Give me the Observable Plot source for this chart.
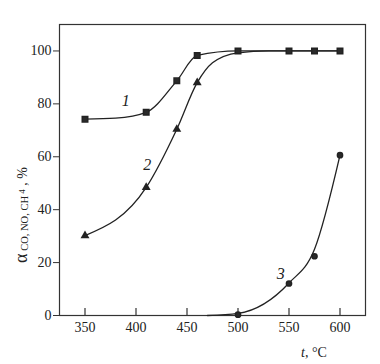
<!DOCTYPE html>
<html>
<head>
<meta charset="utf-8">
<script src="https://cdn.jsdelivr.net/npm/d3@7"></script>
<script src="https://cdn.jsdelivr.net/npm/@observablehq/plot@0.6"></script>
<style>
  html, body { margin: 0; padding: 0; background: #fff; }
  #chart svg { display: block; }
</style>
</head>
<body>
<div id="chart"></div>
<script>
// Measured points (temperature °C, conversion %)
const t1 = [350, 410, 440, 460, 500, 550, 575, 600];
const v1 = [74.2, 76.8, 88.7, 98.3, 100, 100, 100, 100];
const t2 = [350, 410, 440, 460];
const v2 = [30.2, 48.4, 70.4, 88];
const t3 = [500, 550, 575, 600];
const v3 = [0.3, 12.1, 22.4, 60.6];

// Smooth fitted curves
const c1t = [350, 380, 410, 440, 460, 500, 550, 575, 600];
const c1v = [74.2, 74.6, 76.8, 88.7, 98.3, 100, 100, 100, 100];
const c2t = [350, 410, 440, 460, 475, 500, 530, 600];
const c2v = [30.2, 48.4, 70.4, 88, 95.5, 99.3, 100, 100];
const c3t = [470, 500, 550, 575, 600];
const c3v = [0, 0.8, 12.3, 25, 60.6];

// Curve labels
const labelText = ["1", "2", "3"];
const labelT = [390, 411, 542];
const labelV = [81, 56.8, 15.8];

const xTicks = [350, 400, 450, 500, 550, 600];
const yTicks = [0, 20, 40, 60, 80, 100];

const zip = (ts, vs) => ts.map((t, i) => ({t, v: vs[i]}));
const pts1 = zip(t1, v1), pts2 = zip(t2, v2), pts3 = zip(t3, v3);
const cur1 = zip(c1t, c1v), cur2 = zip(c2t, c2v), cur3 = zip(c3t, c3v);
const labels = labelText.map((s, i) => ({s, t: labelT[i], v: labelV[i]}));

const font = "'Liberation Serif', 'DejaVu Serif', serif";

const plot = Plot.plot({
  width: 380,
  height: 364,
  marginLeft: 59,
  marginRight: 15,
  marginTop: 24,
  marginBottom: 49,
  style: {fontFamily: font, fontSize: "14px", color: "#222", background: "#fff"},
  x: {domain: [325, 625]},
  y: {domain: [0, 110]},
  marks: [
    Plot.frame({stroke: "#333", strokeWidth: 1.2}),
    Plot.axisY(yTicks, {tickSize: 6, tickPadding: 2, stroke: "#333", fontSize: 14, label: null}),
    Plot.axisX(xTicks, {tickSize: 0, tickPadding: 7, fontSize: 14, label: null}),
    Plot.tickX(xTicks, {x: d => d, insetTop: 284, stroke: "#333", strokeWidth: 1.2}),
    Plot.line(cur1, {x: "t", y: "v", curve: "monotone-x", stroke: "#222", strokeWidth: 1.3}),
    Plot.line(cur2, {x: "t", y: "v", curve: "monotone-x", stroke: "#222", strokeWidth: 1.3}),
    Plot.line(cur3, {x: "t", y: "v", curve: "monotone-x", stroke: "#222", strokeWidth: 1.3}),
    Plot.dot(pts2, {x: "t", y: "v", symbol: "triangle", r: 3.3, fill: "#222", stroke: "none"}),
    Plot.dot(pts1, {x: "t", y: "v", symbol: "square", r: 3.1, fill: "#2a2a2a", stroke: "#222"}),
    Plot.dot(pts3, {x: "t", y: "v", symbol: "circle", r: 2.6, fill: "#2a2a2a", stroke: "#222"}),
    Plot.text(labels, {x: "t", y: "v", text: "s", fontSize: 16, fontStyle: "italic", fill: "#222"})
  ]
});

document.getElementById("chart").appendChild(plot);

const svg = d3.select(plot);
// Y axis title
const yl = svg.append("text")
  .attr("transform", "translate(27,215) rotate(-90)")
  .attr("text-anchor", "middle")
  .attr("font-family", font)
  .attr("fill", "#222");
yl.append("tspan").attr("font-size", 18).text("α");
yl.append("tspan").attr("font-size", 10.5).attr("dy", 1).text(" CO, NO, CH");
yl.append("tspan").attr("font-size", 9).attr("dy", -3).text(" 4");
yl.append("tspan").attr("font-size", 14).attr("dy", 2).text(" , %");

// X axis title
const xl = svg.append("text")
  .attr("x", 314).attr("y", 357)
  .attr("font-family", font)
  .attr("font-size", 14)
  .attr("fill", "#222");
xl.append("tspan").attr("font-style", "italic").text("t");
xl.append("tspan").text(", °C");
</script>
</body>
</html>
